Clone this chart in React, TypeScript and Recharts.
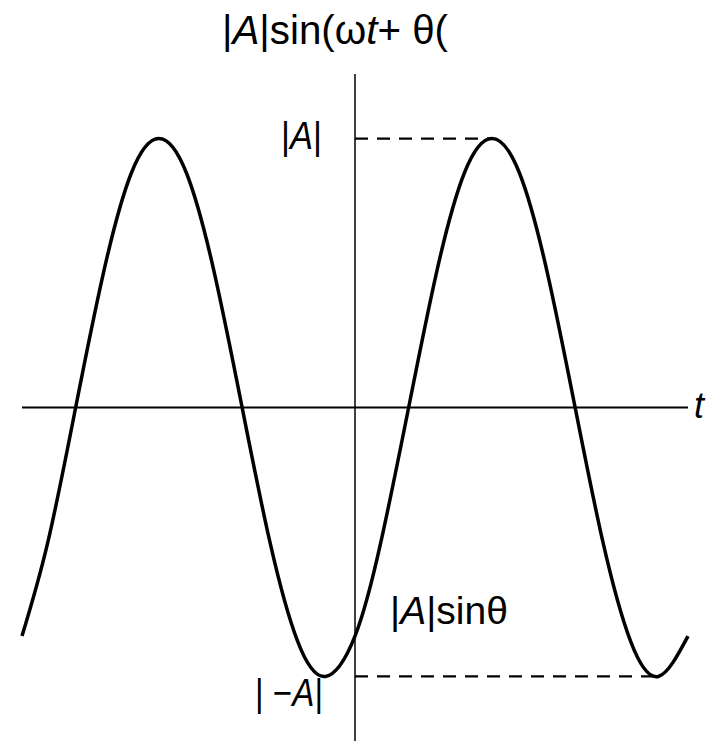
import { Line, LineChart, ReferenceLine, XAxis, YAxis } from "recharts";

// time samples (t = 0 on the vertical axis), one period = 360
const tValues = [-360, -332, -302, -272, -242, -212, -182, -152, -122, -92, -62, -32, 0, 28, 58, 88, 118, 148, 178, 208, 238, 268, 298, 328, 360];
// |A| sin(ωt + θ), in units of |A|
const waveValues = [-0.85, -0.5, 0, 0.5, 0.87, 1, 0.87, 0.5, 0, -0.5, -0.87, -1, -0.85, -0.5, 0, 0.5, 0.87, 1, 0.87, 0.5, 0, -0.5, -0.87, -1, -0.85];

const amplitude = 1;
const peakT = 148;
const troughT = 328;

const data = tValues.map((t, i) => ({ t, v: waveValues[i] }));

const FONT = "'Liberation Sans', Arial, sans-serif";

export default function App() {
  return (
    <div style={{ position: "relative", width: 721, height: 741, background: "#fff" }}>
      <style>{"body{margin:0}"}</style>
      <LineChart width={721} height={741} data={data} margin={{ top: 74, right: 33, bottom: 0, left: 22 }}>
        <XAxis dataKey="t" type="number" domain={[-360, 360]} hide />
        <YAxis type="number" domain={[-1.24, 1.24]} hide allowDataOverflow />
        <ReferenceLine y={0} stroke="#000" strokeWidth={2} />
        <ReferenceLine x={0} stroke="#000" strokeWidth={1.5} />
        <ReferenceLine
          segment={[{ x: 0, y: amplitude }, { x: peakT, y: amplitude }]}
          stroke="#000"
          strokeWidth={2.2}
          strokeDasharray="13 9"
        />
        <ReferenceLine
          segment={[{ x: 0, y: -amplitude }, { x: troughT, y: -amplitude }]}
          stroke="#000"
          strokeWidth={2.2}
          strokeDasharray="13 9"
        />
        <Line
          type="natural"
          dataKey="v"
          stroke="#000"
          strokeWidth={3.5}
          dot={false}
          isAnimationActive={false}
        />
      </LineChart>
      <svg
        width={721}
        height={741}
        style={{ position: "absolute", left: 0, top: 0, pointerEvents: "none" }}
        fontFamily={FONT}
        fill="#000"
      >
        <text x={222} y={44} fontSize={40} textLength={226} lengthAdjust="spacingAndGlyphs">
          |<tspan fontStyle="italic">A</tspan>|sin(ω<tspan fontStyle="italic">t</tspan>+ θ(
        </text>
        <text x={281} y={149} fontSize={38} textLength={41} lengthAdjust="spacingAndGlyphs">
          |<tspan fontStyle="italic">A</tspan>|
        </text>
        <text x={390} y={624} fontSize={38} textLength={118} lengthAdjust="spacingAndGlyphs">
          |<tspan fontStyle="italic">A</tspan>|sinθ
        </text>
        <text x={255} y={706} fontSize={38} textLength={68} lengthAdjust="spacingAndGlyphs">
          | −<tspan fontStyle="italic">A</tspan>|
        </text>
        <text x={694} y={418} fontSize={36} fontStyle="italic">
          t
        </text>
      </svg>
    </div>
  );
}
